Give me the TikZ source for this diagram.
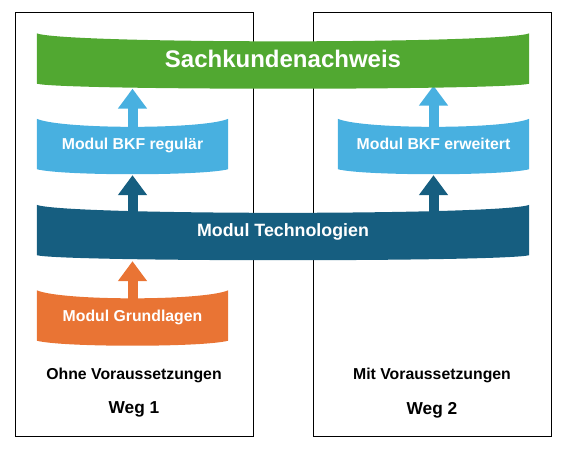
\documentclass[tikz,border=0pt]{standalone}
\usepackage{fontspec}
\setmainfont{Liberation Sans}
\usetikzlibrary{positioning,calc,arrows.meta,backgrounds}

\definecolor{nachweisgreen}{RGB}{81,168,49}
\definecolor{bkfblue}{RGB}{72,176,224}
\definecolor{techblue}{RGB}{22,94,128}
\definecolor{grundorange}{RGB}{233,116,52}

% wavy band behind a module node
\newcommand{\wavebanner}[2]{%
  \fill[#2] (#1.north west)
    .. controls ([xshift=25pt,yshift=-10.7pt]#1.north west) and ([xshift=-25pt,yshift=-10.7pt]#1.north east) .. (#1.north east)
    -- (#1.south east)
    .. controls ([xshift=-25pt,yshift=-6.7pt]#1.south east) and ([xshift=25pt,yshift=-6.7pt]#1.south west) .. (#1.south west)
    -- cycle;}

\begin{document}
\begin{tikzpicture}[x=1pt,y=1pt,
					bannernode/.style={rectangle,
					inner sep=0pt,
					text=white,
					text depth=0pt,
					font=\bfseries\fontsize{15.8}{18}\selectfont,
					minimum width=191pt,
					minimum height=50pt},
					widebanner/.style={bannernode,
					minimum width=492pt},
					modarrow/.style={line width=10pt,
					-{Triangle[width=28pt,length=20pt]}},
					captionnode/.style={text depth=0pt,
					font=\bfseries\fontsize{15.8}{18}\selectfont},
					wegnode/.style={text depth=0pt,
					font=\bfseries\fontsize{17.3}{20}\selectfont}
					]

\useasboundingbox (0,0) rectangle (565,451);

%module nodes
\node[widebanner, font=\bfseries\fontsize{24}{27}\selectfont] (nachweis) at (283,392.5) {Sachkundenachweis};
\node[bannernode] (bkfr) at (132.5,307) {Modul BKF regulär};
\node[bannernode] (bkfe) [right of = bkfr, node distance=301pt] {Modul BKF erweitert};
\node[widebanner, font=\bfseries\fontsize{17.8}{20}\selectfont] (tech) at (283,221) {Modul Technologien};
\node[bannernode] (grund) [below of = bkfr, node distance=171.5pt] {Modul Grundlagen};

%way captions
\node[captionnode] (ohne) at (134,77) {Ohne Voraussetzungen};
\node[wegnode] (weg1) [below of = ohne, node distance=34pt] {Weg 1};
\node[captionnode] (mit) at (432,77) {Mit Voraussetzungen};
\node[wegnode] (weg2) [below of = mit, node distance=34pt] {Weg 2};

\begin{scope}[on background layer]
%frames
\draw[line width=0.8pt] (15,439) rectangle (253,15);
\draw[line width=0.8pt] (313,439) rectangle (551,15);

%arrows
\draw[modarrow, bkfblue] ($(bkfr.north)+(0,-12)$) -- ($(nachweis.south -| bkfr.north)+(0,-5)$);
\draw[modarrow, bkfblue] ($(bkfe.north)+(0,-12)$) -- ($(nachweis.south -| bkfe.north)+(0,-2)$);
\draw[modarrow, techblue] ($(tech.north -| bkfr.south)+(0,-12)$) -- ($(bkfr.south)+(0,-6)$);
\draw[modarrow, techblue] ($(tech.north -| bkfe.south)+(0,-12)$) -- ($(bkfe.south)+(0,-6)$);
\draw[modarrow, grundorange] ($(grund.north)+(0,-12)$) -- ($(tech.south -| grund.north)+(0,-6)$);

%bands
\wavebanner{nachweis}{nachweisgreen}
\wavebanner{bkfr}{bkfblue}
\wavebanner{bkfe}{bkfblue}
\wavebanner{tech}{techblue}
\wavebanner{grund}{grundorange}
\end{scope}
\end{tikzpicture}
\end{document}
